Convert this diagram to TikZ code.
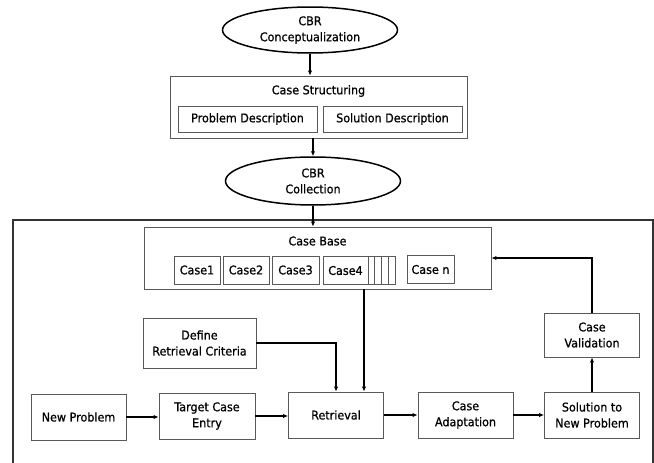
\documentclass[tikz,border=0pt]{standalone}
\usepackage{fontspec}
\setmainfont{DejaVu Sans}[FakeStretch=0.93,FakeBold=0.8]
\usetikzlibrary{arrows.meta,shapes.geometric}
\begin{document}
\begin{tikzpicture}[x=1pt,y=-1pt,
  txt/.style={inner sep=0pt, align=center, font=\fontsize{12}{16}\selectfont},
  box/.style={txt, draw=black!65, line width=0.9pt, fill=white},
  ell/.style={txt, ellipse, draw=black, line width=1.5pt, fill=white},
  arr/.style={draw=black, line width=1.9pt, -{Latex[length=5pt,width=4.5pt]}},
  frame/.style={draw=black!80, line width=1.3pt},
  stripe/.style={draw=black!65, line width=0.7pt}]
\useasboundingbox (0,0) rectangle (654,463);
% outer frame
\draw[frame] (13,470) -- (13,220) -- (653,220) -- (653,470);
% top part
\node[ell, minimum width=175pt, minimum height=46pt] (e1) at (310,30) {CBR\\Conceptualization};
\node[box, minimum width=297pt, minimum height=62pt] (cs) at (318.5,107) {};
\node[txt] (cst) at (318.5,91) {Case Structuring};
\node[box, minimum width=139pt, minimum height=26pt] (pd) at (247.5,119) {Problem Description};
\node[box, minimum width=139pt, minimum height=26pt] (sd) at (392.5,119) {Solution Description};
\node[ell, minimum width=175pt, minimum height=48pt] (e2) at (313,181) {CBR\\Collection};
% case base
\node[box, minimum width=347pt, minimum height=62pt] (cb) at (317.5,258) {};
\node[txt] (cbt) at (317.5,241) {Case Base};
\node[box, minimum width=46pt, minimum height=28pt] (c1) at (197,270) {Case1};
\node[box, minimum width=46pt, minimum height=28pt] (c2) at (246,270) {Case2};
\node[box, minimum width=47pt, minimum height=28pt] (c3) at (295.5,270) {Case3};
\node[box, minimum width=72pt, minimum height=28pt] (c4) at (359,270.5) {};
\node[txt] (c4t) at (345.5,270.5) {Case4};
\foreach \s in {9,15,22,29} \draw[stripe] ([xshift=\s pt]c4.north) -- ([xshift=\s pt]c4.south);
\node[box, minimum width=47pt, minimum height=28pt] (cn) at (430.5,269.5) {Case n};
% process
\node[box, minimum width=113pt, minimum height=50pt] (dr) at (199.5,343) {Define\\Retrieval Criteria};
\node[box, minimum width=95pt, minimum height=46pt] (np) at (78.5,417) {New Problem};
\node[box, minimum width=96pt, minimum height=46pt] (tce) at (207,416) {Target Case\\Entry};
\node[box, minimum width=95pt, minimum height=46pt] (ret) at (336,415) {Retrieval};
\node[box, minimum width=95pt, minimum height=46pt] (ca) at (465.5,415) {Case\\Adaptation};
\node[box, minimum width=95pt, minimum height=46pt] (sol) at (592,415) {Solution to\\New Problem};
\node[box, minimum width=95pt, minimum height=44pt] (val) at (592,335) {Case\\Validation};
% connectors
\draw[arr] (e1.south) -- (e1.south |- cs.north);
\draw[arr] (e2.north |- cs.south) -- (e2.north);
\draw[arr] (e2.south) -- (e2.south |- cb.north);
\draw[arr] (np.east) -- (tce.west |- np.east);
\draw[arr] (tce.east) -- (ret.west |- tce.east);
\draw[arr] (ret.east) -- (ca.west |- ret.east);
\draw[arr] (ca.east) -- (sol.west |- ca.east);
\draw[arr] (dr.east) -| (ret.north);
\draw[arr] ([xshift=46.5pt]cb.south) -- ([xshift=46.5pt]cb.south |- ret.north);
\draw[arr] (sol.north) -- (val.south);
\draw[arr] (val.north) |- (cb.east);
\end{tikzpicture}
\end{document}
